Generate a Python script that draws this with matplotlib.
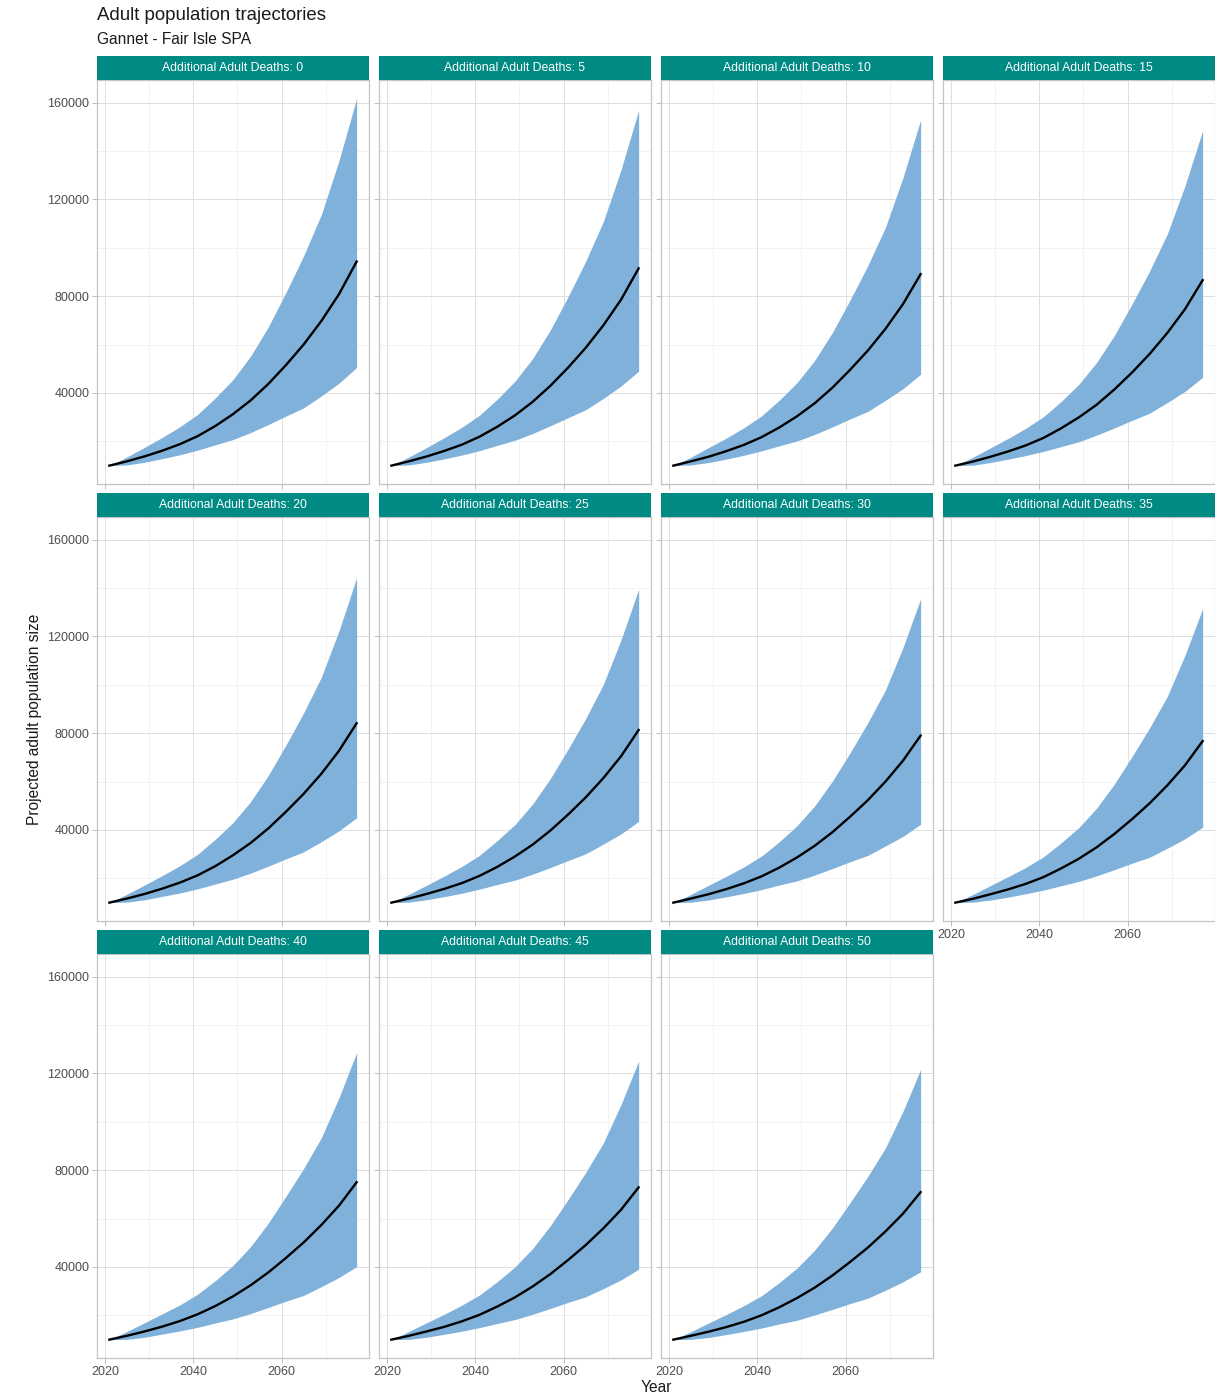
## section 1: importing libraries
import matplotlib.pyplot as plt
from matplotlib.ticker import MultipleLocator

plt.rcParams['font.family'] = ['Liberation Sans', 'DejaVu Sans']


## section 2: values
years = [2021, 2025, 2029, 2033, 2037, 2041, 2045, 2049, 2053, 2057, 2061, 2065, 2069, 2073, 2077]
deaths = [0, 5, 10, 15, 20, 25, 30, 35, 40, 45, 50]

# one row per panel (additional adult deaths 0, 5, ..., 50)
median = [
    [9900, 11700, 13750, 16100, 18800, 22100, 26300, 31200, 36900, 43700, 51500, 60000, 69700, 80800, 94300],
    [9900, 11700, 13700, 16000, 18600, 21900, 26000, 30700, 36300, 42900, 50400, 58600, 67900, 78500, 91500],
    [9900, 11700, 13600, 15900, 18500, 21700, 25700, 30300, 35700, 42100, 49500, 57400, 66400, 76700, 89100],
    [9900, 11600, 13600, 15800, 18300, 21400, 25400, 29900, 35100, 41400, 48400, 56100, 64800, 74600, 86600],
    [9900, 11600, 13500, 15700, 18200, 21200, 25000, 29500, 34600, 40600, 47500, 54900, 63200, 72700, 84100],
    [9900, 11600, 13500, 15600, 18000, 21000, 24700, 29000, 33900, 39700, 46300, 53400, 61400, 70400, 81300],
    [9900, 11600, 13400, 15500, 17900, 20800, 24400, 28600, 33400, 39000, 45400, 52200, 59900, 68600, 79000],
    [9900, 11500, 13400, 15400, 17700, 20500, 24100, 28100, 32800, 38300, 44400, 51000, 58400, 66700, 76700],
    [9900, 11500, 13300, 15300, 17600, 20400, 23800, 27800, 32400, 37700, 43700, 50100, 57300, 65300, 75000],
    [9900, 11500, 13300, 15200, 17500, 20200, 23600, 27400, 31900, 37000, 42800, 49000, 55900, 63600, 72900],
    [9900, 11500, 13200, 15100, 17300, 20000, 23300, 27100, 31400, 36400, 42000, 47900, 54600, 62000, 70900],
]
upper = [
    [9900, 13500, 17500, 21600, 26000, 31100, 37900, 45500, 55200, 67300, 81500, 96700, 113700, 136000, 161800],
    [9900, 13500, 17400, 21500, 25800, 30800, 37400, 44800, 54200, 66000, 79700, 94400, 110800, 132200, 156900],
    [9900, 13400, 17400, 21300, 25600, 30500, 37000, 44200, 53400, 64900, 78300, 92500, 108300, 129000, 152900],
    [9900, 13400, 17300, 21200, 25400, 30200, 36500, 43600, 52600, 63700, 76700, 90400, 105700, 125600, 148500],
    [9900, 13400, 17200, 21100, 25200, 29900, 36100, 43000, 51700, 62500, 75100, 88400, 103100, 122300, 144300],
    [9900, 13400, 17100, 20900, 24900, 29500, 35600, 42200, 50700, 61200, 73300, 86000, 100100, 118500, 139500],
    [9900, 13300, 17100, 20800, 24700, 29200, 35100, 41700, 49900, 60100, 71800, 84200, 97700, 115400, 135600],
    [9900, 13300, 17000, 20700, 24500, 28900, 34700, 41000, 49000, 58900, 70300, 82200, 95200, 112200, 131500],
    [9900, 13300, 16900, 20600, 24300, 28700, 34300, 40600, 48400, 58100, 69200, 80700, 93400, 109900, 128600],
    [9900, 13300, 16900, 20400, 24200, 28400, 33900, 40000, 47600, 57000, 67800, 79000, 91200, 107100, 125100],
    [9900, 13200, 16800, 20300, 24000, 28100, 33500, 39500, 46900, 56000, 66500, 77300, 89100, 104300, 121700],
]
lower = [
    [9900, 10200, 11300, 12800, 14400, 16300, 18500, 20700, 23600, 26900, 30400, 33800, 38700, 44000, 50500],
    [9900, 10200, 11300, 12700, 14300, 16100, 18300, 20400, 23200, 26400, 29700, 33000, 37700, 42800, 49000],
    [9900, 10200, 11200, 12600, 14200, 16000, 18100, 20100, 22800, 25900, 29200, 32300, 36900, 41700, 47700],
    [9900, 10100, 11200, 12600, 14100, 15800, 17800, 19800, 22500, 25500, 28600, 31600, 36000, 40600, 46400],
    [9900, 10100, 11100, 12500, 13900, 15600, 17600, 19600, 22100, 25000, 28000, 30900, 35100, 39600, 45000],
    [9900, 10100, 11100, 12400, 13800, 15500, 17400, 19200, 21700, 24400, 27300, 30100, 34100, 38300, 43500],
    [9900, 10100, 11000, 12300, 13700, 15300, 17200, 18900, 21300, 24000, 26800, 29400, 33300, 37300, 42300],
    [9900, 10100, 11000, 12200, 13600, 15100, 16900, 18700, 21000, 23500, 26200, 28700, 32400, 36300, 41100],
    [9900, 10000, 10900, 12200, 13500, 15000, 16800, 18500, 20700, 23200, 25800, 28200, 31800, 35600, 40100],
    [9900, 10000, 10900, 12100, 13400, 14900, 16600, 18200, 20400, 22800, 25300, 27600, 31000, 34600, 39000],
    [9900, 10000, 10800, 12000, 13300, 14700, 16400, 17900, 20100, 22400, 24800, 27000, 30300, 33800, 38000],
]

y_ticks = [40000, 80000, 120000, 160000]
y_tick_labels = ['40000', '80000', '120000', '160000']
x_ticks = [2020, 2040, 2060]
x_tick_labels = ['2020', '2040', '2060']


## section 3: layout (pixel boxes, top-left origin)
W, H = 1215, 1394
col_left = [97, 379, 661, 943]
row_top = [80, 517, 954]
pw, ph, strip_h = 272, 404, 24

def box(x0, y0, w, h):
    return [x0 / W, 1 - (y0 + h) / H, w / W, h / H]

# shared scales with ggplot style 5% expansion
ylo = min(min(r) for r in lower)
yhi = max(max(r) for r in upper)
ypad = 0.05 * (yhi - ylo)
xpad = 0.05 * (years[-1] - years[0])

teal = '#008A84'
ribbon = '#7FB1DA'


## section 4: plotting
fig = plt.figure(figsize=(W / 100, H / 100), dpi=100)

for i, d in enumerate(deaths):
    r, c = i // 4, i % 4
    ax = fig.add_axes(box(col_left[c], row_top[r], pw, ph))
    ax.fill_between(years, lower[i], upper[i], color=ribbon, lw=0, zorder=2)
    ax.plot(years, median[i], color='black', lw=1.7, zorder=3)

    ax.set_xlim(years[0] - xpad, years[-1] + xpad)
    ax.set_ylim(ylo - ypad, yhi + ypad)
    ax.set_xticks(x_ticks)
    ax.set_yticks(y_ticks)
    ax.xaxis.set_minor_locator(MultipleLocator(10))
    ax.yaxis.set_minor_locator(MultipleLocator(20000))
    ax.set_axisbelow(True)
    ax.grid(which='major', color='#DEDEDE', lw=0.7)
    ax.grid(which='minor', color='#EDEDED', lw=0.5)
    for s in ax.spines.values():
        s.set_color('#C4C4C4')
        s.set_linewidth(0.9)
    ax.tick_params(which='major', length=3.5, width=0.6, color='#B3B3B3',
                   labelsize=9, labelcolor='#4D4D4D', pad=2)
    ax.tick_params(which='minor', length=0)

    if c == 0:
        ax.set_yticklabels(y_tick_labels)
    else:
        ax.set_yticklabels([])
    if r == 2 or (r == 1 and c == 3):
        ax.set_xticklabels(x_tick_labels)
    else:
        ax.set_xticklabels([])

    # facet strip
    sax = fig.add_axes(box(col_left[c], row_top[r] - strip_h, pw, strip_h))
    sax.set_facecolor(teal)
    sax.set_xticks([])
    sax.set_yticks([])
    for s in sax.spines.values():
        s.set_visible(False)
    sax.text(0.5, 0.5, 'Additional Adult Deaths: %d' % d, color='white',
             size=8.8, ha='center', va='center', transform=sax.transAxes)

# titles and axis labels
fig.text(97 / W, 1 - 15 / H, 'Adult population trajectories', size=13.4,
         color='#1A1A1A', ha='left', va='center')
fig.text(97 / W, 1 - 39 / H, 'Gannet - Fair Isle SPA', size=11.2,
         color='#1A1A1A', ha='left', va='center')
fig.text(656 / W, 1 - 1388 / H, 'Year', size=11.2, color='#1A1A1A',
         ha='center', va='center')
fig.text(35 / W, 1 - 719 / H, 'Projected adult population size', size=11.2,
         color='#1A1A1A', ha='center', va='center', rotation=90)

fig.savefig('out.png', dpi=100)
